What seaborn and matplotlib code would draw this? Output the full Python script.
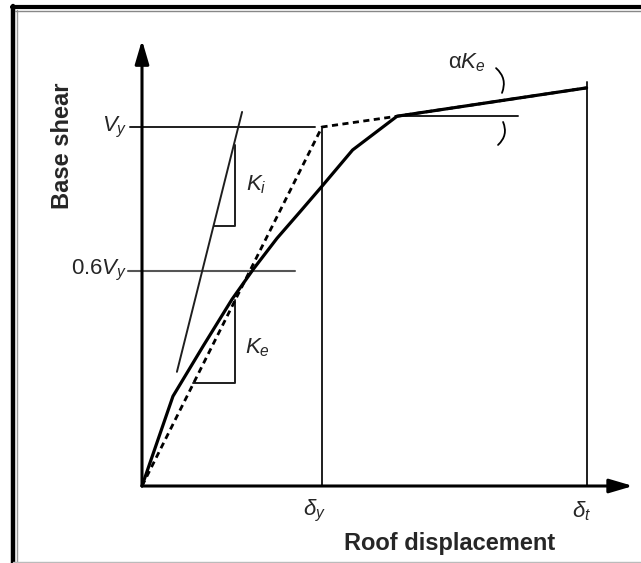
import numpy as np
import pandas as pd
import seaborn as sns
import matplotlib.pyplot as plt
from matplotlib.lines import Line2D

sns.set_theme(style='white')
plt.rcParams['font.family'] = ['Liberation Sans', 'DejaVu Sans']
plt.rcParams['mathtext.fontset'] = 'custom'
plt.rcParams['mathtext.rm'] = 'Liberation Sans'
plt.rcParams['mathtext.it'] = 'Liberation Sans:italic'

# capacity curve (normalised: delta_y = 1, V_y = 1)
curve_x = [0, 0.172, 0.34, 0.50, 0.62, 0.75, 0.88, 1.0, 1.17, 1.417, 2.47]
curve_y = [0, 0.25, 0.39, 0.52, 0.605, 0.69, 0.765, 0.835, 0.936, 1.03, 1.109]

# idealised bilinear curve
bilin_x = [0, 1.0, 1.417, 2.47]
bilin_y = [0, 1.0, 1.03, 1.109]

# initial stiffness line K_i
ki_x = [0.194, 0.556]
ki_y = [0.318, 1.042]

delta_y = 1.0
delta_t = 2.47
v_y = 1.0
v_06 = 0.6

W, H = 641, 563
fig = plt.figure(figsize=(W / 100, H / 100), dpi=100)
ax = fig.add_axes([0, 0, 1, 1])
# pixel mapping: origin at (142, 486), 180 px per unit in x, 359 px per unit in y
ax.set_xlim(-142 / 180, (W - 142) / 180)
ax.set_ylim(-(H - 486) / 359, 486 / 359)
ax.axis('off')

thin = dict(color='#1e1e1e', lw=1.4)

# reference lines
ax.plot([-0.067, 0.961], [v_y, v_y], **thin)
ax.plot([-0.078, 0.85], [v_06, v_06], color='#555555', lw=1.5)
ax.plot([delta_y, delta_y], [0, v_y], **thin)
ax.plot([delta_t, delta_t], [0, 1.125], **thin)
ax.plot([1.417, 2.089], [1.03, 1.03], **thin)

# K_i line and slope triangles
ax.plot(ki_x, ki_y, **thin)
ax.plot([0.40, 0.517, 0.517], [0.724, 0.724, 0.95], **thin)
ax.plot([0.283, 0.517, 0.517], [0.287, 0.287, 0.518], **thin)

# curves
df_curve = pd.DataFrame({'x': curve_x, 'y': curve_y})
df_bilin = pd.DataFrame({'x': bilin_x, 'y': bilin_y})
sns.lineplot(data=df_curve, x='x', y='y', ax=ax, color='black', lw=2.3, sort=False)
sns.lineplot(data=df_bilin, x='x', y='y', ax=ax, color='black', lw=2.0, sort=False,
             linestyle=(0, (2.2, 1.6)))

# axes arrows
arrow = dict(arrowstyle='-|>,head_length=0.95,head_width=0.28', mutation_scale=15,
             color='black', lw=2.2, shrinkA=0, shrinkB=0)
ax.annotate('', xy=(0, 1.242), xytext=(0, 0), arrowprops=arrow)
ax.annotate('', xy=(2.728, 0), xytext=(0, 0), arrowprops=arrow)

# angle arcs for alpha K_e
arc = dict(arrowstyle='-', color='black', lw=1.3, shrinkA=0, shrinkB=0,
           connectionstyle='arc3,rad=-0.35')
ax.annotate('', xy=(2.0, 1.095), xytext=(1.967, 1.164), arrowprops=arc)
ax.annotate('', xy=(1.978, 0.95), xytext=(2.006, 1.014), arrowprops=arc)

# labels
fs = 16
ax.text(-0.08, v_y, '$V_y$', ha='right', va='center', fontsize=fs)
ax.text(-0.08, v_06, '0.6$V_y$', ha='right', va='center', fontsize=fs)
ax.text(0.578, 0.84, '$K_i$', ha='left', va='center', fontsize=fs)
ax.text(0.572, 0.385, '$K_e$', ha='left', va='center', fontsize=fs)
ax.text(1.70, 1.178, 'α$K_e$', ha='left', va='center', fontsize=fs)
ax.text(0.96, -0.07, r'$\delta_y$', ha='center', va='center', fontsize=fs)
ax.text(2.44, -0.07, r'$\delta_t$', ha='center', va='center', fontsize=fs)

ax.text(1.711, -0.159, 'Roof displacement', ha='center', va='center',
        fontsize=17, fontweight='bold')
ax.text(-0.444, 0.947, 'Base shear', ha='center', va='center', rotation=90,
        fontsize=17, fontweight='bold')

# outer frame
fig.add_artist(Line2D([13 / W, 13 / W], [0, 1 - 6 / H], color='black', lw=3.2))
fig.add_artist(Line2D([16.5 / W, 16.5 / W], [0, 1 - 10 / H], color='#999999', lw=1.0))
fig.add_artist(Line2D([11.5 / W, 1], [1 - 7 / H, 1 - 7 / H], color='black', lw=3.0))
fig.add_artist(Line2D([15 / W, 1], [1 - 10.5 / H, 1 - 10.5 / H], color='#888888', lw=1.0))
fig.add_artist(Line2D([13 / W, 1], [0.7 / H, 0.7 / H], color='#bbbbbb', lw=1.0))

fig.savefig('out.png', dpi=100)
